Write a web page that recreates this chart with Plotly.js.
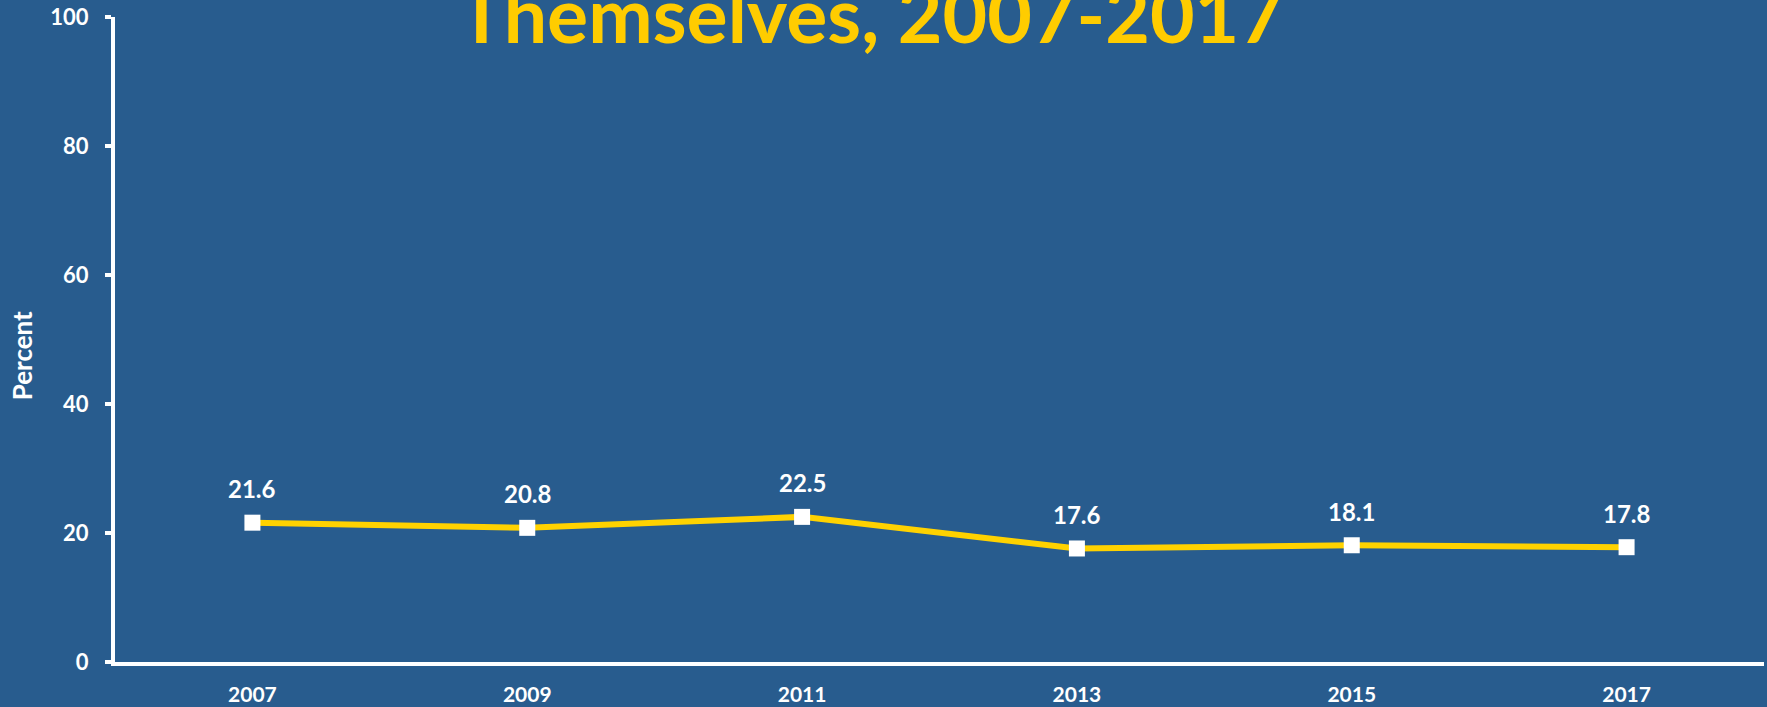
<!DOCTYPE html>
<html>
<head>
<meta charset="utf-8">
<script src="https://cdn.plot.ly/plotly-3.0.1.min.js"></script>
<style>
  html, body { margin: 0; padding: 0; background: #285C8E; }
  #chart { width: 1767px; height: 707px; }
</style>
</head>
<body>
<div id="chart"></div>
<script>
const years = ['2007', '2009', '2011', '2013', '2015', '2017'];
const percents = [21.6, 20.8, 22.5, 17.6, 18.1, 17.8];
const labels = ['21.6', '20.8', '22.5', '17.6', '18.1', '17.8'];
const yTicks = [0, 20, 40, 60, 80, 100];

const bg = '#285C8E';
const white = '#FFFFFF';
const fontFam = 'Lato, "Open Sans", sans-serif';

const trace = {
  type: 'scatter',
  mode: 'lines+markers',
  x: years,
  y: percents,
  line: { color: '#FFD200', width: 6 },
  marker: { symbol: 'square', size: 16, color: white, line: { width: 0 } },
  hoverinfo: 'skip',
  showlegend: false
};

// category index positions on the category axis
const dataAnnotations = years.map((yr, i) => ({
  x: i, y: percents[i], xref: 'x', yref: 'y',
  text: labels[i], showarrow: false, yshift: 34,
  xanchor: 'center', yanchor: 'middle',
  font: { family: fontFam, size: 24, color: white, weight: 'bold' }
}));

const layout = {
  width: 1767, height: 707,
  paper_bgcolor: bg, plot_bgcolor: bg,
  margin: { l: 115, r: 3, t: 17, b: 45, pad: 0 },
  title: {
    text: 'Themselves, 2007-2017',
    font: { family: fontFam, size: 77, color: '#FFCC00', weight: 'bold' },
    x: 871 / 1767, xanchor: 'center', xref: 'container',
    y: 1 - 43 / 707, yanchor: 'bottom', yref: 'container'
  },
  xaxis: {
    type: 'category', range: [-0.5, 5.5],
    showline: true, linecolor: white, linewidth: 4,
    showgrid: false, zeroline: false,
    ticks: '', ticklabelstandoff: 11,
    tickfont: { family: fontFam, size: 21, color: white, weight: 'bold' },
    fixedrange: true
  },
  yaxis: {
    range: [0, 100], tickvals: yTicks, ticktext: yTicks.map(String),
    showline: true, linecolor: white, linewidth: 4,
    showgrid: false, zeroline: false,
    ticks: 'outside', ticklen: 6, tickwidth: 4, tickcolor: white,
    ticklabelstandoff: 12,
    tickfont: { family: fontFam, size: 22, color: white, weight: 'bold' },
    fixedrange: true
  },
  annotations: dataAnnotations.concat([{
    xref: 'paper', yref: 'paper', x: -0.0564, y: 0.4755,
    text: 'Percent', showarrow: false, textangle: -90,
    xanchor: 'center', yanchor: 'middle',
    font: { family: fontFam, size: 26, color: white, weight: 'bold' }
  }])
};

Plotly.newPlot('chart', [trace], layout, { displayModeBar: false, staticPlot: true });
</script>
</body>
</html>
